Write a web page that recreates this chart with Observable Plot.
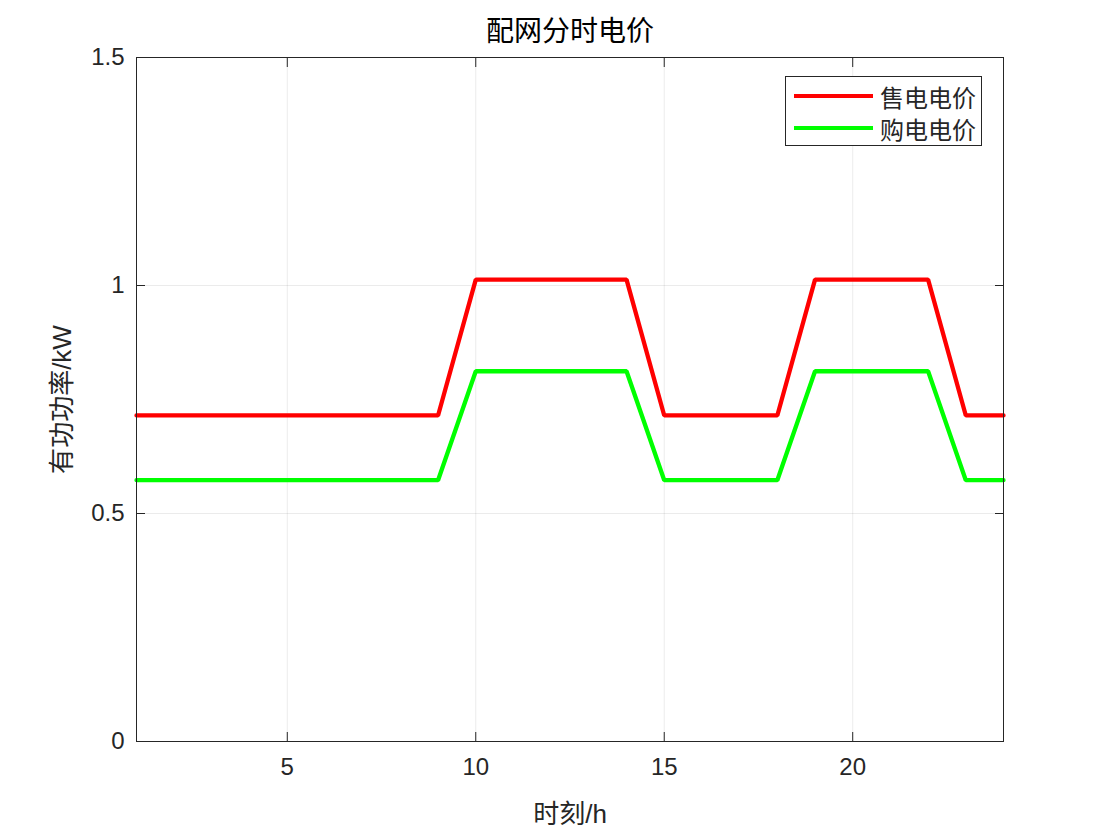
<!DOCTYPE html>
<html>
<head>
<meta charset="utf-8">
<script src="https://cdn.jsdelivr.net/npm/d3@7"></script>
<script src="https://cdn.jsdelivr.net/npm/@observablehq/plot@0.6"></script>
<style>
  html, body { margin: 0; padding: 0; background: #fff; }
  #wrap { position: relative; width: 1108px; height: 827px; }
  #legend { position: absolute; left: 785px; top: 76px; width: 197px; height: 70px; border: 1px solid #262626; background: #fff; box-sizing: border-box; font-family: "Noto Sans CJK SC", sans-serif; font-size: 24px; color: #262626; }
  .row { position: absolute; left: 8px; height: 30px; display: flex; align-items: center; }
  .sw { width: 79px; height: 4px; margin-right: 7px; }
</style>
</head>
<body>
<div id="wrap"></div>
<script>
const title = "配网分时电价";
const xLabel = "时刻/h";
const yLabel = "有功功率/kW";
const seriesNames = ["售电电价", "购电电价"];
const seriesColors = ["#ff0000", "#00ff00"];
const hours = [1,2,3,4,5,6,7,8,9,10,11,12,13,14,15,16,17,18,19,20,21,22,23,24];
const sellPrice = [0.715,0.715,0.715,0.715,0.715,0.715,0.715,0.715,0.715,1.013,1.013,1.013,1.013,1.013,0.715,0.715,0.715,0.715,1.013,1.013,1.013,1.013,0.715,0.715];
const buyPrice  = [0.573,0.573,0.573,0.573,0.573,0.573,0.573,0.573,0.573,0.812,0.812,0.812,0.812,0.812,0.573,0.573,0.573,0.573,0.812,0.812,0.812,0.812,0.573,0.573];
const xTicks = [5, 10, 15, 20];
const yTicks = [0, 0.5, 1, 1.5];

const rows = [];
hours.forEach((h, i) => {
  rows.push({hour: h, price: sellPrice[i], series: seriesNames[0]});
  rows.push({hour: h, price: buyPrice[i], series: seriesNames[1]});
});

const txt = "#262626";
const chart = Plot.plot({
  width: 1108,
  height: 827,
  marginLeft: 136,
  marginRight: 105,
  marginTop: 57,
  marginBottom: 86,
  style: {fontFamily: "'Liberation Sans', Arial, 'Noto Sans CJK SC', sans-serif", fontSize: "24px", color: txt, background: "#fff"},
  x: {domain: [1, 24]},
  y: {domain: [0, 1.5]},
  color: {domain: seriesNames, range: seriesColors},
  marks: [
    Plot.gridX(xTicks, {stroke: "#000", strokeOpacity: 0.08}),
    Plot.gridY(yTicks, {stroke: "#000", strokeOpacity: 0.08}),
    Plot.line(rows, {x: "hour", y: "price", z: "series", stroke: "series", strokeWidth: 4.3, strokeLinejoin: "miter"}),
    Plot.frame({stroke: txt, strokeWidth: 1}),
    Plot.axisX(xTicks, {anchor: "bottom", tickSize: 0, tickPadding: 16, label: null, tickFormat: d => String(d), fill: txt, fontSize: 24}),
    Plot.axisY(yTicks, {anchor: "left", tickSize: 0, tickPadding: 12, label: null, tickFormat: d => String(d), fill: txt, fontSize: 24}),
    Plot.axisX(xTicks, {anchor: "bottom", tickSize: -9, fill: "none", label: null, stroke: txt}),
    Plot.axisX(xTicks, {anchor: "top", tickSize: -9, fill: "none", label: null, stroke: txt}),
    Plot.axisY(yTicks, {anchor: "left", tickSize: -9, fill: "none", label: null, stroke: txt}),
    Plot.axisY(yTicks, {anchor: "right", tickSize: -9, fill: "none", label: null, stroke: txt}),
    Plot.text([title], {text: d => d, frameAnchor: "top", dy: -36, fontSize: 28, fill: "#000", fontFamily: "'Noto Sans CJK SC', sans-serif"}),
    Plot.text([xLabel], {text: d => d, frameAnchor: "bottom", dy: 81, fontSize: 26, fill: txt}),
    Plot.text([yLabel], {text: d => d, frameAnchor: "left", textAnchor: "middle", lineAnchor: "middle", dx: -74, rotate: -90, fontSize: 26, fill: txt})
  ]
});
const wrap = document.getElementById("wrap");
wrap.appendChild(chart);

const legend = document.createElement("div");
legend.id = "legend";
seriesNames.forEach((name, i) => {
  const row = document.createElement("div");
  row.className = "row";
  row.style.top = (4 + i * 32) + "px";
  const sw = document.createElement("div");
  sw.className = "sw";
  sw.style.background = seriesColors[i];
  const label = document.createElement("span");
  label.textContent = name;
  row.appendChild(sw);
  row.appendChild(label);
  legend.appendChild(row);
});
wrap.appendChild(legend);
</script>
</body>
</html>
